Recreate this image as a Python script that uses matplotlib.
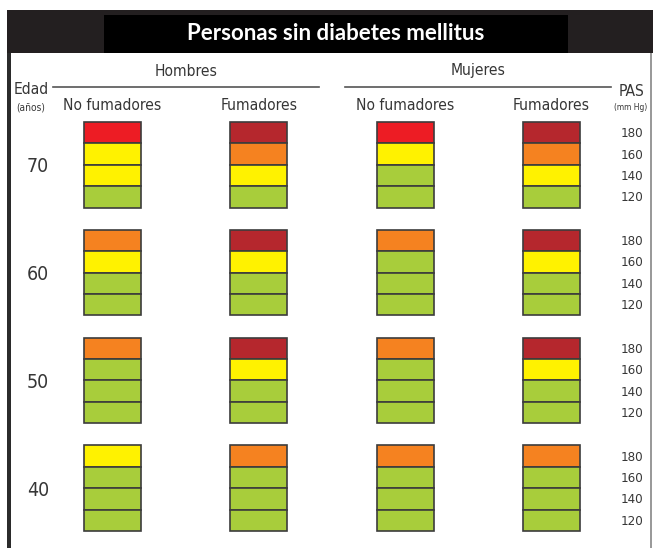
import matplotlib.pyplot as plt
from matplotlib import font_manager as fm
from matplotlib.patches import Rectangle

# categories
ages = ['70', '60', '50', '40']
sexes = ['Hombres', 'Mujeres']
smoking = ['No fumadores', 'Fumadores']
pas_levels = ['180', '160', '140', '120']

# risk level of each cell, columns H-NF, H-F, M-NF, M-F, top cell (180) to bottom (120)
# 0 green, 1 yellow, 2 orange, 3 red, 4 dark red
risk_70 = [[3, 1, 1, 0], [4, 2, 1, 0], [3, 1, 0, 0], [4, 2, 1, 0]]
risk_60 = [[2, 1, 0, 0], [4, 1, 0, 0], [2, 0, 0, 0], [4, 1, 0, 0]]
risk_50 = [[2, 0, 0, 0], [4, 1, 0, 0], [2, 0, 0, 0], [4, 1, 0, 0]]
risk_40 = [[1, 0, 0, 0], [2, 0, 0, 0], [2, 0, 0, 0], [2, 0, 0, 0]]
risk_blocks = [risk_70, risk_60, risk_50, risk_40]

risk_colors = ['#a8cd3b', '#fff200', '#f58220', '#ed1c24', '#b5272d']

# look for a narrow face among the installed fonts
narrow_path = None
for f in fm.fontManager.ttflist:
    if f.weight in (400, 'normal', 'regular') and f.style == 'normal' and \
            ('Narrow' in f.name or 'Condensed' in f.name or f.stretch in ('condensed', 'semi-condensed')):
        narrow_path = f.fname
        break
if narrow_path:
    narrow = fm.FontProperties(fname=narrow_path)
else:
    narrow = fm.FontProperties(family='DejaVu Sans', stretch='condensed')

txt = '#363636'

# layout (pixels)
col_x0, col_step, cell_w = 112.5, 146.3, 57
blk_y0, blk_step, cell_h = 122, 107.8, 21.4

fig = plt.figure(figsize=(6.53, 5.48), dpi=100)
ax = fig.add_axes([0, 0, 1, 1])
ax.set_xlim(0, 653)
ax.set_ylim(548, 0)
ax.axis('off')


def label(x, y, s, size):
    fp = narrow.copy()
    fp.set_size(size)
    ax.text(x, y, s, fontproperties=fp, color=txt, ha='center', va='center')


# frame and header band
ax.add_patch(Rectangle((7, 10), 646, 43, color='#231f20', lw=0))
ax.add_patch(Rectangle((7, 53), 4, 495, color='#2b2b2b', lw=0))
ax.add_patch(Rectangle((650, 53), 2, 495, color='#9a9a9a', lw=0))
ax.add_patch(Rectangle((104, 15), 464, 38, color='black', lw=0))
ax.text(336, 33, 'Personas sin diabetes mellitus', color='white', fontsize=16,
        fontweight='bold', family=['Lato', 'DejaVu Sans'], ha='center', va='center')

# group headers
for i, sex in enumerate(sexes):
    cx = col_x0 + col_step * (2 * i + 0.5)
    label(cx, 71, sex, 11.2)
    ax.plot([cx - 133, cx + 133], [87, 87], color='#555555', lw=1.2)
for j in range(4):
    label(col_x0 + col_step * j, 106, smoking[j % 2], 11.2)

label(31, 89, 'Edad', 11.2)
label(31, 108, '(años)', 7.3)
label(632, 91, 'PAS', 11.2)
label(631, 108, '(mm Hg)', 6)

# risk cells
for b, block in enumerate(risk_blocks):
    top = blk_y0 + blk_step * b
    for j, column in enumerate(block):
        for k, level in enumerate(column):
            ax.bar(col_x0 + col_step * j, cell_h, bottom=top + k * cell_h, width=cell_w,
                   color=risk_colors[level], edgecolor='#3c3c3c', linewidth=1.2)
    for k, p in enumerate(pas_levels):
        label(632, top + (k + 0.55) * cell_h, p, 9.5)
    label(38, top + 2 * cell_h + 2, ages[b], 14)

fig.savefig('out.png', dpi=100)
